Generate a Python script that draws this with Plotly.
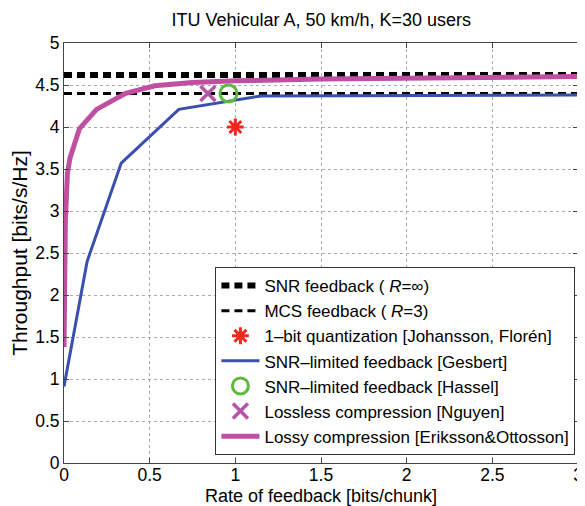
import plotly.graph_objects as go

# ---- data ----
x_range = [0, 3]
snr_feedback_y = [4.62, 4.62]
mcs_feedback_y = [4.40, 4.40]

onebit_x = [1.0]
onebit_y = [4.0]

gesbert_x = [0.0, 0.135, 0.334, 0.67, 1.15, 3.0]
gesbert_y = [0.91, 2.40, 3.57, 4.21, 4.37, 4.38]

hassel_x = [0.96]
hassel_y = [4.40]

nguyen_x = [0.84]
nguyen_y = [4.40]

lossy_x = [0.0, 0.008, 0.02, 0.035, 0.09, 0.19, 0.36, 0.53, 0.75, 1.0, 1.5, 2.0, 2.5, 3.0]
lossy_y = [1.38, 2.90, 3.45, 3.63, 3.98, 4.21, 4.40, 4.49, 4.53, 4.55, 4.57, 4.58, 4.59, 4.60]

x_ticks = [0, 0.5, 1, 1.5, 2, 2.5, 3]
x_ticklabels = ["0", "0.5", "1", "1.5", "2", "2.5", "3"]
y_ticks = [0, 0.5, 1, 1.5, 2, 2.5, 3, 3.5, 4, 4.5, 5]
y_ticklabels = ["0", "0.5", "1", "1.5", "2", "2.5", "3", "3.5", "4", "4.5", "5"]

names = [
    "SNR feedback ( <i>R</i>=∞)",
    "MCS feedback ( <i>R</i>=3)",
    "1–bit quantization [Johansson, Florén]",
    "SNR–limited feedback [Gesbert]",
    "SNR–limited feedback [Hassel]",
    "Lossless compression [Nguyen]",
    "Lossy compression [Eriksson&Ottosson]",
]

FONT = "Liberation Sans, Arial, Helvetica, sans-serif"

fig = go.Figure()
fig.add_trace(go.Scatter(x=x_range, y=snr_feedback_y, mode="lines", name=names[0],
                         line=dict(color="black", width=6, dash="8px,5px")))
fig.add_trace(go.Scatter(x=x_range, y=mcs_feedback_y, mode="lines", name=names[1],
                         line=dict(color="black", width=3, dash="8px,5px")))
fig.add_trace(go.Scatter(x=onebit_x, y=onebit_y, mode="markers", name=names[2],
                         marker=dict(symbol="asterisk", size=14, color="#ee2a1e",
                                     line=dict(color="#ee2a1e", width=3))))
fig.add_trace(go.Scatter(x=gesbert_x, y=gesbert_y, mode="lines", name=names[3],
                         line=dict(color="#3a4fae", width=3)))
fig.add_trace(go.Scatter(x=hassel_x, y=hassel_y, mode="markers", name=names[4],
                         marker=dict(symbol="circle-open", size=17, color="#5fba3c",
                                     line=dict(color="#5fba3c", width=3))))
fig.add_trace(go.Scatter(x=nguyen_x, y=nguyen_y, mode="markers", name=names[5],
                         marker=dict(symbol="x-thin-open", size=15, color="#b455aa",
                                     line=dict(color="#b455aa", width=3.5))))
fig.add_trace(go.Scatter(x=lossy_x, y=lossy_y, mode="lines", name=names[6],
                         line=dict(color="#c04fa2", width=5)))

axis_common = dict(
    showline=True, linecolor="#444", linewidth=1, mirror="ticks",
    ticks="inside", ticklen=5, tickcolor="#444",
    showgrid=True, gridcolor="#aaaaaa", griddash="dot", gridwidth=1,
    zeroline=False, tickfont=dict(size=17.5, color="black", family=FONT),
    ticklabeloverflow="allow", automargin=False,
)

# page body has an 8px default margin, so the figure is sized to fit inside it
fig.update_layout(
    width=577, height=498,
    margin=dict(l=56, r=7, t=35, b=43),
    paper_bgcolor="white", plot_bgcolor="white",
    font=dict(family=FONT, color="black"),
    title=dict(text="ITU Vehicular A, 50 km/h, K=30 users", x=0.543, xanchor="center",
               y=0.976, yanchor="middle", font=dict(size=18)),
    xaxis=dict(range=[0, 3], tickvals=x_ticks, ticktext=x_ticklabels, ticklabelstandoff=-4,
               title=dict(text="Rate of feedback [bits/chunk]", font=dict(size=18)),
               **axis_common),
    yaxis=dict(range=[0, 5], tickvals=y_ticks, ticktext=y_ticklabels,
               title=dict(text="Throughput [bits/s/Hz]", font=dict(size=21)),
               **axis_common),
    legend=dict(x=0.995, xanchor="right", y=0.019, yanchor="bottom",
                bgcolor="white", bordercolor="#333", borderwidth=1,
                font=dict(size=17, family=FONT), tracegroupgap=0, itemwidth=38),
    showlegend=True,
)

fig.write_html("out.html")
